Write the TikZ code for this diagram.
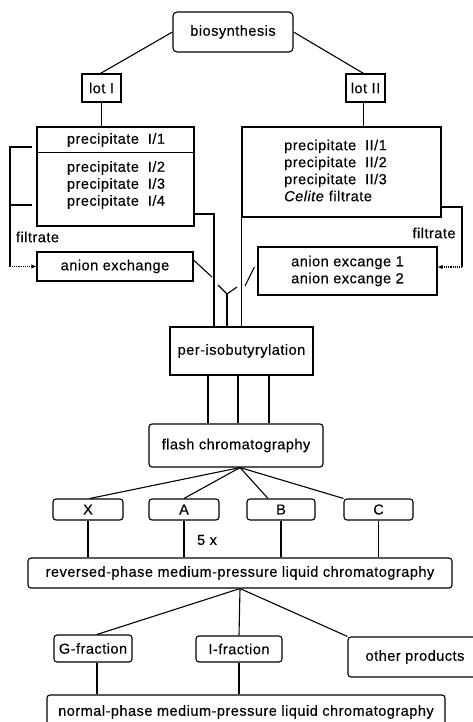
\documentclass[tikz,border=0pt]{standalone}
\usepackage{fontspec}
\setmainfont{Liberation Sans}[LetterSpace=3.5,FakeBold=0.3]
\usetikzlibrary{arrows.meta,calc}
\begin{document}
\begin{tikzpicture}[x=1pt,y=-1pt, line width=1.1pt,
  box/.style={draw, line width=1.1pt, inner sep=0pt, align=center},
  rbox/.style={box, rounded corners=4pt},
  txt/.style={inner sep=0pt, align=center},
  flow/.style={densely dotted, -{Latex[length=5pt,width=4.5pt]}},
  font=\fontsize{14.5}{17}\selectfont]
\useasboundingbox (0,0) rectangle (473,722);

% ---- top: biosynthesis and the two lots
\node[rbox, minimum width=120pt, minimum height=40pt] (bio) at (233,32) {biosynthesis};
\node[box, minimum width=39pt, minimum height=28pt] (lotI) at (101.5,88) {lot I};
\node[box, minimum width=39pt, minimum height=28pt] (lotII) at (365.5,88) {lot II};

% ---- precipitate boxes
\node[box, minimum width=157pt, minimum height=99pt] (precL) at (115.5,176.5) {};
\draw ($(precL.north west)+(0,26)$) -- ($(precL.north east)+(0,26)$);
\node[txt] (precLa) at (116,140) {precipitate\hspace{0.3em} I/1};
\node[txt] (precLb) at (116,185) {precipitate\hspace{0.3em} I/2\\precipitate\hspace{0.3em} I/3\\precipitate\hspace{0.3em} I/4};

\node[box, minimum width=199pt, minimum height=90pt] (precR) at (341.5,172) {};
\node[txt, align=left] (precRt) at (335.5,170.5) {precipitate\hspace{0.3em} II/1\\precipitate\hspace{0.3em} II/2\\precipitate\hspace{0.3em} II/3\\\textit{Celite} filtrate};

% ---- anion exchange steps
\node[box, minimum width=156pt, minimum height=29pt] (anL) at (115,266.5) {anion exchange};
\node[box, minimum width=179pt, minimum height=48pt] (anR) at (347.5,271) {anion excange 1\\anion excange 2};
\node[txt] (filL) at (37.5,237) {filtrate};
\node[txt] (filR) at (434,233) {filtrate};

% ---- derivatisation and chromatography
\node[box, minimum width=143pt, minimum height=48pt] (peri) at (241.5,351) {per-isobutyrylation};
\node[rbox, rounded corners=3pt, minimum width=174pt, minimum height=43pt] (flash) at (236,445.5) {flash chromatography};

\node[rbox, rounded corners=3pt, minimum width=70pt, minimum height=21pt] (fx) at (88,509.5) {X};
\node[rbox, rounded corners=3pt, minimum width=70pt, minimum height=21pt] (fa) at (184,509.5) {A};
\node[rbox, rounded corners=3pt, minimum width=68pt, minimum height=21pt] (fb) at (281,509.5) {B};
\node[rbox, rounded corners=3pt, minimum width=69pt, minimum height=21pt] (fc) at (378.5,509.5) {C};
\node[txt] (times) at (207,540) {5 x};

\node[rbox, rounded corners=3pt, minimum width=424pt, minimum height=30pt] (rp) at (240,573) {reversed-phase medium-pressure liquid chromatography};

\node[rbox, rounded corners=3pt, minimum width=78pt, minimum height=27pt] (gfr) at (93,648.5) {G-fraction};
\node[rbox, rounded corners=3pt, minimum width=86pt, minimum height=26pt] (ifr) at (239,649) {I-fraction};
\node[rbox, rounded corners=3pt, minimum width=134pt, minimum height=40pt] (oth) at (415,657) {other products};

\node[rbox, rounded corners=3pt, minimum width=398pt, minimum height=34pt] (np) at (246,712) {normal-phase medium-pressure liquid chromatography};

% ---- connectors
\draw (bio.west) -- ([xshift=-1pt]lotI.north);
\draw (bio.east) -- ([xshift=-2pt]lotII.north);
\draw (lotI.south) -- (lotI.south |- precL.north);
\draw ([xshift=-2pt]lotII.south) -- ([xshift=-2pt]lotII.south |- precR.north);

% filtrate of lot I
\coordinate (bl1) at (32,147);
\coordinate (bl2) at (32,205);
\coordinate (bc) at (10,266.5);
\draw (bl1) -| (bc);
\draw (bl2) -- (bl2 -| bc);
\draw[flow] (bc) -- (anL.west);

% filtrate of lot II
\coordinate (br1) at (462,207);
\coordinate (br2) at (462,267);
\draw (precR.east |- br1) -- (br1) -- (br2);
\draw[flow] (br2) -- ([yshift=4pt]anR.east);

% streams joining at per-isobutyrylation
\draw ([yshift=-37.5pt]precL.east) -| ([xshift=-27.5pt]peri.north);
\coordinate (ya) at (212,277);
\coordinate (yb) at (218,285);
\coordinate (yj) at (227,294);
\coordinate (yc) at (237,287);
\coordinate (yd) at (245,286);
\draw ([yshift=6.5pt]anL.east) -- (ya);
\draw (yb) -- (yj) -- (yc);
\draw (yj) -- (yj |- peri.north);
\draw ([yshift=4pt,xshift=-3pt]anR.west) -- (yd);
\draw (precR.south west) -- (precR.south west |- peri.north);

\foreach \dx in {-33.5,-3.5,27.5}
  \draw ([xshift=\dx pt]peri.south) -- ([xshift=\dx pt]peri.south |- flash.north);

% fractions from flash chromatography
\coordinate (ff) at ([xshift=4pt]flash.south);
\draw (ff) -- ([xshift=2pt]fx.north);
\draw (ff) -- (fa.north);
\draw (ff) -- ([xshift=-13pt]fb.north);
\draw (ff) -- (fc.north west);
\foreach \n in {fx,fa,fb,fc}
  \draw (\n.south) -- (\n.south |- rp.north);

% fractions from reversed-phase MPLC
\draw (rp.south) -- ([xshift=4pt]gfr.north);
\draw (rp.south) -- (ifr.north);
\draw (rp.south) -- (oth.north west);
\draw ([xshift=4pt]gfr.south) -- ([xshift=4pt]gfr.south |- np.north);
\draw (ifr.south) -- (ifr.south |- np.north);
\end{tikzpicture}
\end{document}
